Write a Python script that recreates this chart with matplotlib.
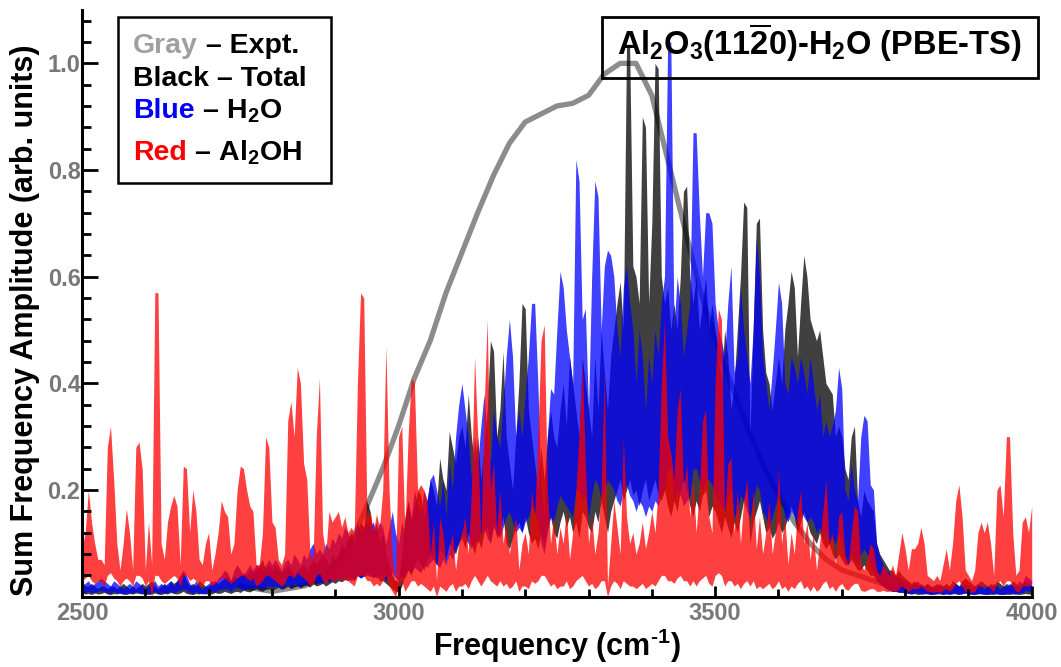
import numpy as np
import matplotlib.pyplot as plt
from matplotlib.patches import Rectangle
from matplotlib.ticker import MultipleLocator, FixedLocator, FormatStrFormatter

# 字体设置
plt.rcParams["font.family"] = ["Liberation Sans", "DejaVu Sans"]
plt.rcParams["font.weight"] = "bold"
plt.rcParams["mathtext.fontset"] = "custom"
plt.rcParams["mathtext.rm"] = "Liberation Sans:bold"
plt.rcParams["mathtext.bf"] = "Liberation Sans:bold"
plt.rcParams["mathtext.it"] = "Liberation Sans:bold"
plt.rcParams["mathtext.default"] = "bf"

# 频率网格 (cm^-1)
freq = np.arange(2500, 4001, 5)

# Black - Total：上包络
total = [
    0.03, 0.02, 0.02, 0.025, 0.02, 0.015, 0.02, 0.02, 0.015, 0.02, 0.02, 0.015, 0.02, 0.025, 0.02, 0.015, 0.02, 0.015, 0.02, 0.025,
    0.02, 0.025, 0.03, 0.02, 0.015, 0.02, 0.025, 0.02, 0.03, 0.025, 0.03, 0.04, 0.045, 0.03, 0.02, 0.025, 0.02, 0.03, 0.025, 0.02,
    0.02, 0.025, 0.03, 0.025, 0.03, 0.035, 0.04, 0.03, 0.04, 0.035, 0.04, 0.045, 0.04, 0.05, 0.045, 0.05, 0.06, 0.07, 0.05, 0.06,
    0.05, 0.06, 0.05, 0.045, 0.05, 0.06, 0.05, 0.04, 0.05, 0.055, 0.06, 0.05, 0.06, 0.07, 0.06, 0.07, 0.08, 0.07, 0.06, 0.08,
    0.07, 0.08, 0.10, 0.09, 0.11, 0.12, 0.10, 0.12, 0.14, 0.13, 0.18, 0.16, 0.12, 0.14, 0.10, 0.12, 0.08, 0.06, 0.04, 0.03,
    0.03, 0.08, 0.15, 0.18, 0.14, 0.17, 0.20, 0.19, 0.15, 0.18, 0.22, 0.20, 0.17, 0.26, 0.22, 0.20, 0.31, 0.28, 0.25, 0.30,
    0.32, 0.28, 0.38, 0.30, 0.25, 0.30, 0.22, 0.28, 0.35, 0.48, 0.46, 0.30, 0.35, 0.46, 0.30, 0.25, 0.20, 0.30, 0.40, 0.55,
    0.54, 0.35, 0.30, 0.25, 0.20, 0.28, 0.22, 0.30, 0.35, 0.30, 0.28, 0.35, 0.40, 0.32, 0.45, 0.40, 0.35, 0.30, 0.45, 0.40,
    0.35, 0.30, 0.45, 0.35, 0.50, 0.42, 0.35, 0.45, 0.50, 0.55, 0.59, 0.50, 1.03, 1.03, 0.62, 0.60, 0.55, 0.90, 0.88, 0.55,
    0.70, 1.00, 0.99, 0.60, 0.55, 0.58, 0.50, 0.55, 0.50, 0.60, 0.76, 0.77, 0.60, 0.55, 0.60, 0.50, 0.55, 0.60, 0.50, 0.55,
    0.50, 0.45, 0.40, 0.50, 0.45, 0.35, 0.40, 0.50, 0.60, 0.74, 0.73, 0.30, 0.50, 0.70, 0.71, 0.50, 0.42, 0.40, 0.35, 0.40,
    0.45, 0.40, 0.50, 0.55, 0.61, 0.58, 0.45, 0.55, 0.64, 0.60, 0.52, 0.50, 0.48, 0.50, 0.45, 0.40, 0.39, 0.38, 0.30, 0.32,
    0.30, 0.24, 0.22, 0.30, 0.32, 0.18, 0.15, 0.20, 0.18, 0.17, 0.16, 0.10, 0.08, 0.07, 0.06, 0.05, 0.05, 0.04, 0.05, 0.04,
    0.035, 0.03, 0.025, 0.03, 0.02, 0.025, 0.02, 0.025, 0.02, 0.02, 0.025, 0.02, 0.02, 0.025, 0.02, 0.03, 0.025, 0.02, 0.03, 0.035,
    0.03, 0.025, 0.02, 0.025, 0.03, 0.025, 0.02, 0.025, 0.02, 0.03, 0.025, 0.02, 0.025, 0.02, 0.03, 0.025, 0.02, 0.025, 0.03, 0.025,
    0.02,
]
# Black - Total：下包络
total_lo = [
    0.008, 0.005, 0.006, 0.004, 0.007, 0.005, 0.006, 0.008, 0.005, 0.004, 0.006, 0.005, 0.007, 0.005, 0.004, 0.006, 0.005, 0.007, 0.006, 0.005,
    0.006, 0.004, 0.005, 0.007, 0.005, 0.004, 0.006, 0.005, 0.008, 0.006, 0.005, 0.007, 0.01, 0.006, 0.005, 0.004, 0.006, 0.005, 0.007, 0.005,
    0.006, 0.005, 0.008, 0.006, 0.007, 0.01, 0.008, 0.006, 0.009, 0.01, 0.008, 0.012, 0.01, 0.009, 0.012, 0.015, 0.012, 0.01, 0.014, 0.015,
    0.012, 0.015, 0.018, 0.014, 0.016, 0.02, 0.015, 0.018, 0.02, 0.017, 0.02, 0.022, 0.018, 0.025, 0.02, 0.022, 0.025, 0.02, 0.024, 0.028,
    0.025, 0.03, 0.028, 0.032, 0.03, 0.035, 0.03, 0.04, 0.035, 0.04, 0.045, 0.04, 0.035, 0.04, 0.03, 0.03, 0.025, 0.02, 0.015, 0.01,
    0.01, 0.02, 0.04, 0.05, 0.04, 0.06, 0.07, 0.06, 0.05, 0.07, 0.08, 0.07, 0.06, 0.09, 0.08, 0.07, 0.10, 0.09, 0.08, 0.10,
    0.11, 0.09, 0.12, 0.10, 0.08, 0.11, 0.09, 0.12, 0.13, 0.10, 0.14, 0.11, 0.12, 0.15, 0.10, 0.09, 0.11, 0.13, 0.14, 0.12,
    0.15, 0.12, 0.10, 0.11, 0.09, 0.12, 0.10, 0.13, 0.15, 0.12, 0.11, 0.14, 0.16, 0.13, 0.15, 0.12, 0.14, 0.11, 0.16, 0.15,
    0.13, 0.12, 0.16, 0.14, 0.18, 0.15, 0.12, 0.16, 0.18, 0.20, 0.22, 0.18, 0.20, 0.22, 0.19, 0.20, 0.17, 0.20, 0.22, 0.18,
    0.20, 0.22, 0.19, 0.18, 0.20, 0.17, 0.15, 0.18, 0.16, 0.20, 0.22, 0.20, 0.17, 0.15, 0.18, 0.16, 0.19, 0.20, 0.15, 0.17,
    0.16, 0.14, 0.12, 0.15, 0.13, 0.11, 0.14, 0.12, 0.15, 0.18, 0.20, 0.10, 0.14, 0.16, 0.18, 0.15, 0.12, 0.13, 0.11, 0.12,
    0.14, 0.12, 0.13, 0.15, 0.17, 0.15, 0.12, 0.14, 0.16, 0.14, 0.12, 0.11, 0.10, 0.12, 0.10, 0.09, 0.10, 0.08, 0.07, 0.08,
    0.07, 0.06, 0.06, 0.07, 0.06, 0.05, 0.05, 0.06, 0.05, 0.04, 0.04, 0.03, 0.025, 0.02, 0.015, 0.012, 0.01, 0.01, 0.008, 0.008,
    0.007, 0.006, 0.005, 0.006, 0.004, 0.005, 0.006, 0.005, 0.004, 0.005, 0.006, 0.005, 0.004, 0.006, 0.005, 0.007, 0.005, 0.004, 0.006, 0.007,
    0.006, 0.005, 0.004, 0.005, 0.006, 0.005, 0.004, 0.005, 0.004, 0.006, 0.005, 0.004, 0.005, 0.004, 0.006, 0.005, 0.004, 0.005, 0.006, 0.005,
    0.004,
]

# Blue - H2O：上包络
h2o = [
    0.02, 0.025, 0.03, 0.02, 0.025, 0.03, 0.035, 0.03, 0.025, 0.02, 0.03, 0.025, 0.02, 0.015, 0.02, 0.025, 0.02, 0.03, 0.025, 0.02,
    0.015, 0.02, 0.025, 0.03, 0.02, 0.025, 0.02, 0.025, 0.03, 0.02, 0.03, 0.04, 0.05, 0.04, 0.025, 0.02, 0.03, 0.02, 0.015, 0.02,
    0.025, 0.03, 0.025, 0.035, 0.04, 0.05, 0.045, 0.03, 0.05, 0.06, 0.05, 0.04, 0.05, 0.06, 0.05, 0.06, 0.055, 0.05, 0.06, 0.07,
    0.06, 0.07, 0.06, 0.05, 0.065, 0.07, 0.06, 0.08, 0.07, 0.06, 0.08, 0.07, 0.09, 0.10, 0.08, 0.09, 0.08, 0.10, 0.09, 0.11,
    0.10, 0.12, 0.11, 0.13, 0.12, 0.10, 0.12, 0.14, 0.12, 0.13, 0.14, 0.13, 0.14, 0.12, 0.14, 0.13, 0.10, 0.13, 0.16, 0.12,
    0.10, 0.14, 0.12, 0.18, 0.15, 0.20, 0.17, 0.15, 0.20, 0.18, 0.22, 0.23, 0.20, 0.17, 0.22, 0.15, 0.25, 0.20, 0.30, 0.36,
    0.40, 0.35, 0.30, 0.22, 0.30, 0.25, 0.32, 0.38, 0.30, 0.25, 0.35, 0.30, 0.28, 0.36, 0.45, 0.52, 0.45, 0.30, 0.35, 0.30,
    0.38, 0.45, 0.55, 0.55, 0.40, 0.20, 0.15, 0.30, 0.39, 0.38, 0.50, 0.61, 0.58, 0.50, 0.45, 0.40, 0.82, 0.78, 0.52, 0.54,
    0.35, 0.60, 0.78, 0.75, 0.50, 0.62, 0.65, 0.64, 0.60, 0.50, 0.45, 0.58, 0.62, 0.55, 0.50, 0.40, 0.50, 0.45, 0.35, 0.45,
    0.40, 0.50, 0.45, 0.55, 0.60, 1.04, 1.04, 0.50, 0.60, 0.55, 0.45, 0.50, 0.55, 0.87, 0.87, 0.72, 0.60, 0.72, 0.72, 0.70,
    0.55, 0.50, 0.48, 0.45, 0.55, 0.62, 0.42, 0.45, 0.58, 0.50, 0.45, 0.40, 0.50, 0.67, 0.60, 0.45, 0.40, 0.35, 0.42, 0.50,
    0.59, 0.55, 0.40, 0.38, 0.45, 0.43, 0.40, 0.45, 0.42, 0.38, 0.45, 0.40, 0.35, 0.38, 0.30, 0.33, 0.30, 0.32, 0.35, 0.43,
    0.39, 0.20, 0.18, 0.25, 0.20, 0.18, 0.30, 0.34, 0.33, 0.21, 0.20, 0.10, 0.075, 0.06, 0.05, 0.045, 0.04, 0.04, 0.035, 0.03,
    0.03, 0.025, 0.02, 0.025, 0.03, 0.02, 0.02, 0.025, 0.02, 0.015, 0.02, 0.025, 0.02, 0.02, 0.015, 0.02, 0.025, 0.02, 0.02, 0.025,
    0.02, 0.015, 0.02, 0.025, 0.02, 0.015, 0.02, 0.02, 0.025, 0.02, 0.015, 0.02, 0.02, 0.025, 0.02, 0.02, 0.03, 0.025, 0.04, 0.035,
    0.03,
]
# Blue - H2O：下包络
h2o_lo = [
    0.006, 0.008, 0.01, 0.007, 0.008, 0.01, 0.012, 0.01, 0.008, 0.006, 0.01, 0.008, 0.006, 0.005, 0.007, 0.008, 0.006, 0.01, 0.008, 0.006,
    0.005, 0.006, 0.008, 0.01, 0.006, 0.008, 0.007, 0.008, 0.01, 0.007, 0.01, 0.012, 0.015, 0.012, 0.008, 0.006, 0.01, 0.007, 0.005, 0.006,
    0.008, 0.01, 0.008, 0.012, 0.014, 0.015, 0.014, 0.01, 0.015, 0.018, 0.015, 0.012, 0.015, 0.018, 0.015, 0.018, 0.016, 0.015, 0.018, 0.02,
    0.018, 0.02, 0.018, 0.015, 0.02, 0.022, 0.018, 0.025, 0.022, 0.018, 0.025, 0.022, 0.028, 0.03, 0.025, 0.028, 0.025, 0.03, 0.028, 0.032,
    0.03, 0.035, 0.032, 0.038, 0.035, 0.03, 0.035, 0.04, 0.035, 0.038, 0.04, 0.038, 0.04, 0.035, 0.04, 0.038, 0.03, 0.038, 0.045, 0.035,
    0.03, 0.04, 0.035, 0.05, 0.045, 0.055, 0.05, 0.045, 0.06, 0.055, 0.065, 0.07, 0.06, 0.055, 0.07, 0.06, 0.08, 0.07, 0.09, 0.10,
    0.12, 0.11, 0.10, 0.09, 0.11, 0.10, 0.12, 0.13, 0.11, 0.10, 0.13, 0.12, 0.11, 0.13, 0.15, 0.16, 0.14, 0.12, 0.13, 0.12,
    0.14, 0.15, 0.17, 0.16, 0.14, 0.10, 0.08, 0.12, 0.15, 0.14, 0.17, 0.19, 0.18, 0.17, 0.16, 0.15, 0.20, 0.20, 0.18, 0.19,
    0.15, 0.19, 0.22, 0.21, 0.18, 0.20, 0.22, 0.21, 0.20, 0.18, 0.17, 0.20, 0.21, 0.19, 0.18, 0.16, 0.18, 0.17, 0.15, 0.17,
    0.16, 0.18, 0.17, 0.19, 0.20, 0.24, 0.24, 0.18, 0.20, 0.19, 0.17, 0.18, 0.19, 0.24, 0.24, 0.22, 0.20, 0.22, 0.22, 0.21,
    0.19, 0.18, 0.17, 0.16, 0.19, 0.20, 0.15, 0.16, 0.19, 0.18, 0.16, 0.15, 0.18, 0.21, 0.20, 0.16, 0.15, 0.13, 0.15, 0.17,
    0.19, 0.18, 0.15, 0.14, 0.16, 0.15, 0.14, 0.16, 0.15, 0.14, 0.15, 0.14, 0.12, 0.13, 0.11, 0.12, 0.10, 0.11, 0.10, 0.12,
    0.10, 0.07, 0.06, 0.08, 0.07, 0.06, 0.08, 0.09, 0.08, 0.06, 0.05, 0.03, 0.025, 0.02, 0.015, 0.012, 0.01, 0.01, 0.009, 0.008,
    0.008, 0.007, 0.005, 0.007, 0.008, 0.005, 0.005, 0.007, 0.005, 0.004, 0.005, 0.007, 0.005, 0.005, 0.004, 0.005, 0.007, 0.005, 0.005, 0.007,
    0.005, 0.004, 0.005, 0.007, 0.005, 0.004, 0.005, 0.005, 0.007, 0.005, 0.004, 0.005, 0.005, 0.007, 0.005, 0.005, 0.008, 0.007, 0.012, 0.01,
    0.008,
]

# Red - Al2OH：上包络
al2oh = [
    0.09, 0.12, 0.20, 0.14, 0.10, 0.07, 0.07, 0.06, 0.28, 0.32, 0.22, 0.10, 0.05, 0.10, 0.165, 0.12, 0.05, 0.28, 0.29, 0.24,
    0.05, 0.14, 0.06, 0.57, 0.57, 0.10, 0.07, 0.14, 0.17, 0.19, 0.17, 0.06, 0.245, 0.24, 0.12, 0.20, 0.16, 0.07, 0.06, 0.10,
    0.12, 0.05, 0.08, 0.12, 0.18, 0.16, 0.15, 0.08, 0.10, 0.20, 0.245, 0.24, 0.20, 0.17, 0.16, 0.06, 0.06, 0.12, 0.30, 0.28,
    0.14, 0.13, 0.07, 0.06, 0.08, 0.33, 0.366, 0.30, 0.43, 0.40, 0.25, 0.22, 0.08, 0.07, 0.30, 0.41, 0.12, 0.08, 0.16, 0.14,
    0.15, 0.16, 0.13, 0.15, 0.12, 0.13, 0.12, 0.40, 0.57, 0.56, 0.15, 0.16, 0.12, 0.155, 0.13, 0.20, 0.47, 0.20, 0.07, 0.03,
    0.30, 0.32, 0.12, 0.30, 0.41, 0.40, 0.20, 0.21, 0.20, 0.18, 0.08, 0.14, 0.03, 0.15, 0.12, 0.06, 0.09, 0.12, 0.05, 0.10,
    0.12, 0.15, 0.08, 0.20, 0.45, 0.30, 0.10, 0.35, 0.52, 0.20, 0.25, 0.12, 0.20, 0.10, 0.14, 0.08, 0.12, 0.15, 0.05, 0.10,
    0.12, 0.08, 0.20, 0.15, 0.30, 0.48, 0.51, 0.20, 0.10, 0.15, 0.08, 0.13, 0.10, 0.16, 0.07, 0.12, 0.20, 0.30, 0.44, 0.25,
    0.10, 0.15, 0.08, 0.12, 0.20, 0.42, 0.02, 0.10, 0.18, 0.13, 0.08, 0.30, 0.15, 0.10, 0.12, 0.08, 0.10, 0.14, 0.09, 0.12,
    0.16, 0.12, 0.20, 0.40, 0.52, 0.30, 0.27, 0.22, 0.35, 0.39, 0.20, 0.25, 0.15, 0.22, 0.12, 0.20, 0.33, 0.35, 0.15, 0.12,
    0.40, 0.54, 0.52, 0.15, 0.25, 0.26, 0.12, 0.20, 0.10, 0.18, 0.22, 0.12, 0.20, 0.09, 0.15, 0.08, 0.12, 0.18, 0.08, 0.12,
    0.24, 0.10, 0.15, 0.06, 0.12, 0.08, 0.16, 0.20, 0.10, 0.14, 0.07, 0.12, 0.05, 0.10, 0.16, 0.22, 0.10, 0.12, 0.06, 0.15,
    0.16, 0.08, 0.06, 0.12, 0.17, 0.16, 0.06, 0.05, 0.07, 0.10, 0.09, 0.05, 0.04, 0.06, 0.05, 0.04, 0.06, 0.04, 0.08, 0.12,
    0.09, 0.05, 0.09, 0.09, 0.10, 0.13, 0.10, 0.04, 0.035, 0.03, 0.04, 0.03, 0.06, 0.09, 0.05, 0.10, 0.18, 0.21, 0.15, 0.05,
    0.04, 0.03, 0.05, 0.12, 0.14, 0.12, 0.14, 0.10, 0.04, 0.20, 0.21, 0.15, 0.30, 0.30, 0.12, 0.04, 0.05, 0.14, 0.15, 0.12,
    0.17,
]
# Red - Al2OH：下包络
al2oh_lo = [
    0.03, 0.035, 0.04, 0.03, 0.025, 0.03, 0.028, 0.02, 0.04, 0.045, 0.035, 0.03, 0.02, 0.03, 0.035, 0.03, 0.02, 0.04, 0.04, 0.035,
    0.02, 0.03, 0.0, 0.04, 0.04, 0.03, 0.025, 0.03, 0.035, 0.04, 0.035, 0.02, 0.04, 0.04, 0.03, 0.035, 0.03, 0.02, 0.02, 0.03,
    0.03, 0.02, 0.025, 0.03, 0.035, 0.035, 0.03, 0.025, 0.03, 0.035, 0.04, 0.04, 0.035, 0.03, 0.035, 0.02, 0.025, 0.03, 0.04, 0.04,
    0.035, 0.03, 0.025, 0.02, 0.025, 0.04, 0.04, 0.035, 0.045, 0.04, 0.035, 0.03, 0.02, 0.025, 0.04, 0.045, 0.03, 0.025, 0.035, 0.03,
    0.03, 0.035, 0.03, 0.035, 0.03, 0.025, 0.02, 0.04, 0.04, 0.04, 0.03, 0.03, 0.02, 0.025, 0.02, 0.03, 0.04, 0.02, 0.01, 0.0,
    0.02, 0.03, 0.01, 0.02, 0.03, 0.03, 0.02, 0.025, 0.02, 0.015, 0.01, 0.02, 0.0, 0.02, 0.015, 0.01, 0.02, 0.025, 0.01, 0.02,
    0.02, 0.025, 0.015, 0.03, 0.04, 0.03, 0.02, 0.03, 0.04, 0.03, 0.025, 0.02, 0.03, 0.02, 0.025, 0.015, 0.02, 0.03, 0.01, 0.02,
    0.02, 0.015, 0.03, 0.025, 0.03, 0.04, 0.04, 0.03, 0.02, 0.025, 0.015, 0.02, 0.02, 0.03, 0.015, 0.02, 0.03, 0.035, 0.04, 0.03,
    0.02, 0.025, 0.015, 0.02, 0.03, 0.03, 0.0, 0.02, 0.03, 0.025, 0.015, 0.03, 0.025, 0.02, 0.02, 0.015, 0.02, 0.025, 0.015, 0.02,
    0.025, 0.02, 0.03, 0.04, 0.04, 0.03, 0.03, 0.025, 0.035, 0.04, 0.03, 0.03, 0.02, 0.03, 0.02, 0.03, 0.035, 0.04, 0.025, 0.02,
    0.04, 0.045, 0.04, 0.02, 0.03, 0.03, 0.02, 0.025, 0.015, 0.025, 0.03, 0.02, 0.03, 0.015, 0.02, 0.015, 0.02, 0.025, 0.015, 0.02,
    0.03, 0.015, 0.02, 0.01, 0.02, 0.015, 0.025, 0.03, 0.015, 0.02, 0.01, 0.02, 0.01, 0.015, 0.025, 0.03, 0.015, 0.02, 0.01, 0.02,
    0.025, 0.015, 0.012, 0.02, 0.025, 0.025, 0.012, 0.01, 0.012, 0.015, 0.015, 0.01, 0.01, 0.012, 0.01, 0.01, 0.012, 0.01, 0.015, 0.02,
    0.015, 0.01, 0.015, 0.015, 0.015, 0.02, 0.015, 0.01, 0.01, 0.008, 0.01, 0.008, 0.012, 0.015, 0.01, 0.015, 0.025, 0.03, 0.02, 0.01,
    0.01, 0.008, 0.01, 0.02, 0.02, 0.02, 0.02, 0.015, 0.01, 0.025, 0.03, 0.02, 0.03, 0.03, 0.02, 0.01, 0.01, 0.02, 0.02, 0.02,
    0.025,
]

# Gray - Expt.
expt_freq = np.arange(2750, 3801, 25)
expt = [
    0.02, 0.015, 0.01, 0.015, 0.02, 0.03, 0.06, 0.10, 0.17, 0.24, 0.32, 0.41, 0.48, 0.57, 0.645,
    0.72, 0.79, 0.85, 0.89, 0.905, 0.92, 0.925, 0.94, 0.98, 1.0, 1.0, 0.94, 0.82, 0.70, 0.58,
    0.48, 0.40, 0.32, 0.25, 0.19, 0.14, 0.10, 0.07, 0.05, 0.04, 0.03, 0.02, 0.02,
]

W, H = 1061, 667
fig = plt.figure(figsize=(W / 100, H / 100), dpi=100)
ax = fig.add_axes([82 / W, 1 - 596.7 / H, 949.7 / W, 586.7 / H])

ax.plot(expt_freq, expt, color="#8c8c8c", lw=3.8, solid_joinstyle="round", zorder=1.0)
ax.fill_between(freq, total_lo, total, color="black", alpha=0.75, lw=0, zorder=1.1)
ax.fill_between(freq, h2o_lo, h2o, color="blue", alpha=0.75, lw=0, zorder=1.2)
ax.fill_between(freq, al2oh_lo, al2oh, color="red", alpha=0.75, lw=0, zorder=1.3)

ax.set_xlim(2500, 4000)
ax.set_ylim(0, 1.1)
ax.xaxis.set_major_locator(MultipleLocator(500))
ax.xaxis.set_minor_locator(MultipleLocator(100))
ax.yaxis.set_major_locator(FixedLocator([0.2, 0.4, 0.6, 0.8, 1.0]))
ax.yaxis.set_minor_locator(MultipleLocator(0.04))
ax.yaxis.set_major_formatter(FormatStrFormatter("%.1f"))

for s in ["top", "right"]:
    ax.spines[s].set_visible(False)
for s in ["left", "bottom"]:
    ax.spines[s].set_linewidth(2.2)

tick_gray = "#787878"
ax.tick_params(axis="y", which="major", direction="in", length=11.5, width=2,
               labelsize=17, labelcolor=tick_gray, pad=1)
ax.tick_params(axis="y", which="minor", direction="in", length=6.5, width=2)
ax.tick_params(axis="x", which="major", direction="in", length=8, width=2,
               labelsize=17, labelcolor=tick_gray, pad=4)
ax.tick_params(axis="x", which="minor", direction="in", length=6, width=2)

ax.set_xlabel("Frequency (cm$^{\\text{-1}}$)", fontsize=22, fontweight="bold", labelpad=1)
ax.set_ylabel("Sum Frequency Amplitude (arb. units)", fontsize=22, fontweight="bold")
ax.yaxis.set_label_coords(-0.044, 0.4716)

# 标题框
fig.add_artist(Rectangle((601.7 / W, 1 - 78.3 / H), 436.3 / W, 61.6 / H,
                         transform=fig.transFigure, fill=False, ec="black", lw=2))
fig.text(819.8 / W, 1 - 55 / H, "Al$_2$O$_3$(11$\\overline{2}$0)-H$_2$O (PBE-TS)",
         ha="center", va="baseline", fontsize=23.5, fontweight="bold")

# 图例框（彩色文字）
fig.add_artist(Rectangle((118.3 / W, 1 - 183.3 / H), 212.4 / W, 166 / H,
                         transform=fig.transFigure, fill=False, ec="black", lw=1.8))
legend_lines = [
    (53.3, [("Gray", "#a0a0a0"), (" – Expt.", "black")]),
    (86.0, [("Black – Total", "black")]),
    (118.3, [("Blue", "blue"), (" – H$_2$O", "black")]),
    (160.0, [("Red", "red"), (" – Al$_2$OH", "black")]),
]
renderer = fig.canvas.get_renderer()
for y_px, pieces in legend_lines:
    x = 133 / W
    for txt, col in pieces:
        t = fig.text(x, 1 - y_px / H, txt, color=col, ha="left", va="baseline",
                     fontsize=20.5, fontweight="bold")
        x = t.get_window_extent(renderer).x1 / fig.bbox.width

fig.savefig("out.png", dpi=100)
